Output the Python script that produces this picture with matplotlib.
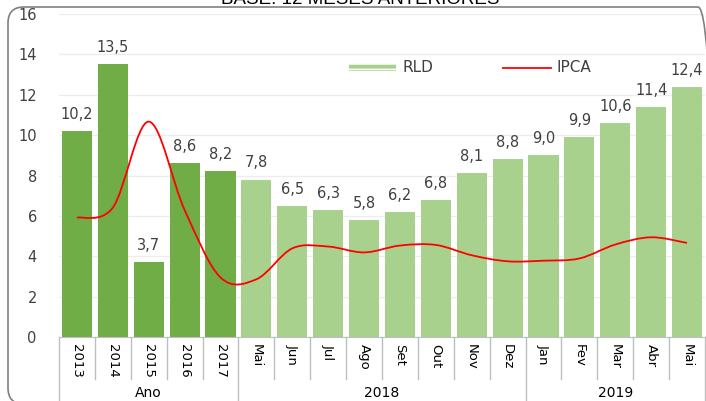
import numpy as np
import matplotlib
matplotlib.use("Agg")
import matplotlib.pyplot as plt
from matplotlib.path import Path
from matplotlib.patches import PathPatch, Patch, FancyBboxPatch
from matplotlib.lines import Line2D
import matplotlib.transforms as mtransforms

# data
categories = ["2013", "2014", "2015", "2016", "2017",
              "Mai", "Jun", "Jul", "Ago", "Set", "Out", "Nov", "Dez",
              "Jan", "Fev", "Mar", "Abr", "Mai"]
groups = [("Ano", 0, 4), ("2018", 5, 12), ("2019", 13, 17)]
rld = [10.2, 13.5, 3.7, 8.6, 8.2,
       7.8, 6.5, 6.3, 5.8, 6.2, 6.8, 8.1, 8.8,
       9.0, 9.9, 10.6, 11.4, 12.4]
ipca = [5.91, 6.41, 10.67, 6.29, 2.95,
        2.86, 4.39, 4.48, 4.19, 4.53, 4.56, 4.05, 3.75,
        3.78, 3.89, 4.58, 4.94, 4.66]
n_years = 5

DARK = "#70AD47"
LIGHT = "#A9D18E"
TXT = "#404040"
SEP = "#BFBFBF"

plt.rcParams["hatch.linewidth"] = 1.2


def smooth_path(xs, ys):
    # Catmull-Rom style bezier, like the smoothed line in Excel
    pts = np.column_stack([xs, ys])
    verts = [pts[0]]
    codes = [Path.MOVETO]
    n = len(pts)
    for i in range(n - 1):
        p0 = pts[i - 1] if i > 0 else pts[i]
        p1 = pts[i]
        p2 = pts[i + 1]
        p3 = pts[i + 2] if i + 2 < n else pts[i + 1]
        c1 = p1 + (p2 - p0) / 6.0
        c2 = p2 - (p3 - p1) / 6.0
        verts += [c1, c2, p2]
        codes += [Path.CURVE4] * 3
    return Path(verts, codes)


fig = plt.figure(figsize=(7.06, 4.01), dpi=100)
ax = fig.add_axes([59 / 706, 1 - 337 / 401, 646 / 706, (337 - 14) / 401])

x = np.arange(len(categories))
colors = [DARK if i < n_years else LIGHT for i in x]
ax.bar(x, rld, width=0.84, color=colors, zorder=2)
for xi, v in zip(x, rld):
    ax.text(xi, v + 0.45, f"{v:.1f}".replace(".", ","), ha="center", va="bottom",
            fontsize=10.5, color=TXT, zorder=4)

ax.add_patch(PathPatch(smooth_path(x, ipca), fill=False, edgecolor="#FF0000",
                       linewidth=1.3, zorder=3))

ax.set_xlim(-0.5, len(categories) - 0.5)
ax.set_ylim(0, 16)
ax.set_yticks(range(0, 17, 2))
ax.tick_params(axis="y", length=0, labelsize=10.5, labelcolor=TXT, pad=16)
ax.set_xticks([])
ax.grid(axis="y", color="#EDEDED", linewidth=0.9, zorder=0)
for s in ["top", "right", "left"]:
    ax.spines[s].set_visible(False)
ax.spines["bottom"].set_color(SEP)

# two-level category axis
trans = mtransforms.blended_transform_factory(ax.transData, fig.transFigure)
y0 = 1 - 337 / 401
y_inner = 1 - 379 / 401
y_outer = 1 - 402 / 401
bounds = {g[1] for g in groups} | {len(categories)}
for b in range(len(categories) + 1):
    ybot = y_outer if b in bounds else y_inner
    ax.add_line(Line2D([b - 0.5, b - 0.5], [y0, ybot], transform=trans,
                       color=SEP, linewidth=1.0, clip_on=False))
for xi, lab in zip(x, categories):
    ax.text(xi, 1 - 344 / 401, lab, transform=trans, rotation=-90, ha="center",
            va="top", fontsize=9.5, color="black", clip_on=False)
for name, a, b in groups:
    ax.text((a + b) / 2, 1 - 393 / 401, name, transform=trans, ha="center",
            va="center", fontsize=10, color="black", clip_on=False)

handles = [Patch(facecolor=LIGHT, edgecolor="white", hatch="---", linewidth=0),
           Line2D([], [], color="#FF0000", linewidth=1.3)]
leg = fig.legend(handles, ["RLD", "IPCA"], ncol=2, loc="center",
                 bbox_to_anchor=(470 / 706, 1 - 68 / 401), frameon=False,
                 fontsize=11, handlelength=3.1, handleheight=0.5,
                 columnspacing=4.6, handletextpad=0.4)
for t in leg.get_texts():
    t.set_color(TXT)

# rounded chart border (runs past the right and bottom edges) and clipped title
fig.patches.append(FancyBboxPatch((8, -3), 706, 397,
                                  boxstyle="round,pad=0,rounding_size=16",
                                  transform=mtransforms.IdentityTransform(),
                                  fill=False, edgecolor="#808080", linewidth=1.2))
fig.text(360 / 706, 1 - 4 / 401, "BASE: 12 MESES ANTERIORES", ha="center",
         va="baseline", fontsize=13.5, color="black", family="Liberation Sans")

fig.savefig("out.png", dpi=100)
